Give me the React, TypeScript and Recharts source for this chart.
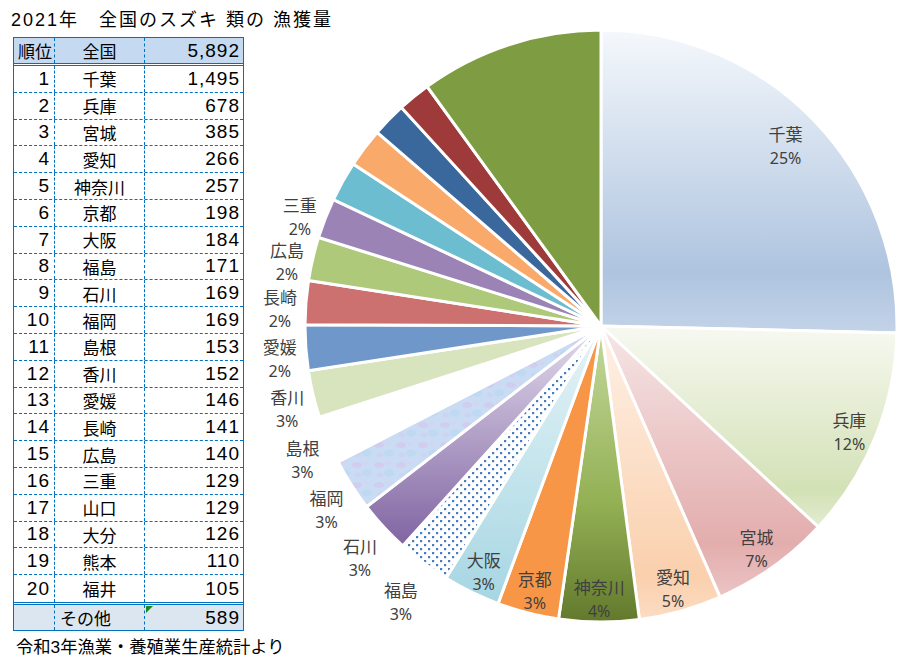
import React from 'react';
import { PieChart, Pie, Cell } from 'recharts';

// 2021年 スズキ類の漁獲量 (トン) 上位20都道府県
const prefectures = [
  '千葉', '兵庫', '宮城', '愛知', '神奈川', '京都', '大阪', '福島', '石川', '福岡',
  '島根', '香川', '愛媛', '長崎', '広島', '三重', '山口', '大分', '熊本', '福井',
];
const catches = [
  1495, 678, 385, 266, 257, 198, 184, 171, 169, 169,
  153, 152, 146, 141, 140, 129, 129, 126, 110, 105,
];
const otherName = 'その他';
const otherCatch = 589;
const nationalName = '全国';
const nationalTotal = 5892;

const titleText = '2021年　全国のスズキ 類の 漁獲量';
const sourceText = '令和3年漁業・養殖業生産統計より';

// only the first 16 slices carry a label
const LABELLED = 16;

const pieData = [
  ...prefectures.map((name, i) => ({ name, value: catches[i] })),
  { name: otherName, value: otherCatch },
];

const sliceFills = [
  'url(#gChiba)', 'url(#gHyogo)', 'url(#gMiyagi)', 'url(#gAichi)', 'url(#gKanagawa)',
  '#f79646', 'url(#gOsaka)', 'url(#pDots)', 'url(#gIshikawa)', 'url(#pMarble)',
  '#ffffff', '#d7e4bd', '#6f97ca', '#cd7170', '#aec97a',
  '#9b83b5', '#6dbdd1', '#f9aa6b', '#3a689c', '#9e3a39',
  '#7e9c41',
];

const RAD = Math.PI / 180;
const jpFont = "'Liberation Sans', 'Noto Sans CJK JP', sans-serif";

const renderLabel = (props: any) => {
  const { cx, cy, midAngle, outerRadius, percent, index, name } = props;
  if (index >= LABELLED) return null;
  const c = Math.cos(-midAngle * RAD);
  const s = Math.sin(-midAngle * RAD);
  let r: number;
  let dy: number;
  if (percent > 0.03) {
    r = index === 0 ? outerRadius - 38 : outerRadius - 28;
    dy = index === 0 ? 0 : 5;
  } else {
    const ext = Math.min(18 / Math.max(Math.abs(c), 0.01), 24 / Math.max(Math.abs(s), 0.01));
    r = outerRadius + 8 + ext;
    dy = 9;
  }
  const x = cx + r * c;
  const y = cy + r * s + dy;
  return (
    <text
      x={x}
      y={y}
      textAnchor="middle"
      fill="#404040"
      fontFamily="'Noto Sans', 'Noto Sans CJK JP', sans-serif"
    >
      <tspan x={x} y={y - 11.5} dominantBaseline="central" fontSize={17}>{name}</tspan>
      <tspan x={x} y={y + 12} dominantBaseline="central" fontSize={16}>{`${Math.round(percent * 100)}%`}</tspan>
    </text>
  );
};

const BLUE = '#0070c0';
const ROW_H = 26.8;

const cellBase: React.CSSProperties = {
  position: 'absolute',
  top: 0,
  height: '100%',
  display: 'flex',
  alignItems: 'center',
  boxSizing: 'border-box',
  whiteSpace: 'nowrap',
};

const numStyle: React.CSSProperties = { fontSize: 19, letterSpacing: 1 };

const TableRow = ({ top, height, rank, name, value, bg, dashedBottom, nameAlign, marker, rankSmall }: any) => (
  <div
    style={{
      position: 'absolute',
      left: 0,
      top,
      width: 229,
      height,
      background: bg,
      borderBottom: dashedBottom ? `1px dashed ${BLUE}` : 'none',
      boxSizing: 'border-box',
      fontSize: 17,
      color: '#000',
    }}
  >
    <div
      style={{
        ...cellBase,
        ...(rankSmall ? {} : numStyle),
        left: 0,
        width: 41,
        justifyContent: 'flex-end',
        paddingRight: rankSmall ? 2 : 4,
        borderRight: `1px dashed ${BLUE}`,
      }}
    >
      {rank}
    </div>
    <div
      style={{
        ...cellBase,
        left: 41,
        width: 90,
        justifyContent: nameAlign === 'left' ? 'flex-start' : 'center',
        paddingLeft: nameAlign === 'left' ? 5 : 0,
        borderRight: `1px dashed ${BLUE}`,
      }}
    >
      {name}
    </div>
    <div style={{ ...cellBase, ...numStyle, left: 131, width: 98, justifyContent: 'flex-end', paddingRight: 3 }}>
      {marker && (
        <div
          style={{
            position: 'absolute',
            left: 1,
            top: 1,
            width: 0,
            height: 0,
            borderTop: '7px solid #1e8a1e',
            borderRight: '7px solid transparent',
          }}
        />
      )}
      {value}
    </div>
  </div>
);

const RankTable = () => (
  <div
    style={{
      position: 'absolute',
      left: 13,
      top: 37,
      width: 231,
      height: 594,
      border: `1px solid ${BLUE}`,
      boxSizing: 'border-box',
      fontFamily: jpFont,
    }}
  >
    <TableRow top={0} height={25} rank="順位" rankSmall name={nationalName} value={nationalTotal.toLocaleString('en-US')} bg="#c5d9f1" />
    <div style={{ position: 'absolute', left: 0, top: 25, width: 229, height: 3, borderTop: `1px solid ${BLUE}`, borderBottom: `1px solid ${BLUE}`, boxSizing: 'border-box' }} />
    {prefectures.map((name, i) => (
      <TableRow
        key={name}
        top={28 + i * ROW_H}
        height={ROW_H}
        rank={i + 1}
        name={name}
        value={catches[i].toLocaleString('en-US')}
        bg="#ffffff"
        dashedBottom={i < prefectures.length - 1}
      />
    ))}
    <div style={{ position: 'absolute', left: 0, top: 28 + 20 * ROW_H, width: 229, height: 3, borderTop: `1px solid ${BLUE}`, borderBottom: `1px solid ${BLUE}`, boxSizing: 'border-box' }} />
    <TableRow
      top={31 + 20 * ROW_H}
      height={592 - (31 + 20 * ROW_H)}
      rank=""
      name={otherName}
      value={otherCatch.toLocaleString('en-US')}
      bg="#dce6f1"
      nameAlign="left"
      marker
    />
  </div>
);

const App = () => {
  return (
    <div style={{ position: 'absolute', left: 0, top: 0, width: 913, height: 663, background: '#fff', overflow: 'hidden' }}>
      <div style={{ position: 'absolute', left: 11, top: 5, fontSize: 18, letterSpacing: 2, fontFamily: jpFont, color: '#000', whiteSpace: 'pre' }}>
        {titleText}
      </div>
      <div style={{ position: 'absolute', left: 16, top: 633, fontSize: 17.3, fontFamily: jpFont, color: '#000', whiteSpace: 'pre' }}>
        {sourceText}
      </div>
      <div style={{ position: 'absolute', left: 0, top: 0 }}>
        <PieChart width={913} height={663} margin={{ top: 0, right: 0, bottom: 0, left: 0 }}>
          <defs>
            <linearGradient id="gChiba" x1="0" y1="0" x2="0" y2="1">
              <stop offset="0" stopColor="#f5f8fc" />
              <stop offset="0.8" stopColor="#aec4df" />
              <stop offset="1" stopColor="#c3d3e8" />
            </linearGradient>
            <linearGradient id="gHyogo" x1="0" y1="0" x2="0" y2="1">
              <stop offset="0" stopColor="#f7f9f1" />
              <stop offset="0.82" stopColor="#d3e1b6" />
              <stop offset="1" stopColor="#e3ecd2" />
            </linearGradient>
            <linearGradient id="gMiyagi" x1="0" y1="0" x2="0" y2="1">
              <stop offset="0" stopColor="#f6e6e6" />
              <stop offset="0.8" stopColor="#e3adad" />
              <stop offset="1" stopColor="#ecc4c4" />
            </linearGradient>
            <linearGradient id="gAichi" x1="0" y1="0" x2="0" y2="1">
              <stop offset="0" stopColor="#fef1e7" />
              <stop offset="0.85" stopColor="#fad0ad" />
              <stop offset="1" stopColor="#fcdcc3" />
            </linearGradient>
            <linearGradient id="gKanagawa" x1="0" y1="0" x2="0" y2="1">
              <stop offset="0" stopColor="#c5d99d" />
              <stop offset="0.6" stopColor="#93b054" />
              <stop offset="1" stopColor="#62792c" />
            </linearGradient>
            <linearGradient id="gOsaka" x1="0" y1="0" x2="0" y2="1">
              <stop offset="0" stopColor="#e6f4f7" />
              <stop offset="1" stopColor="#a6d6e3" />
            </linearGradient>
            <linearGradient id="gIshikawa" x1="0" y1="0" x2="0" y2="1">
              <stop offset="0" stopColor="#e3dcec" />
              <stop offset="1" stopColor="#8064a2" />
            </linearGradient>
            <pattern id="pDots" width="8" height="8" patternUnits="userSpaceOnUse">
              <rect width="8" height="8" fill="#ffffff" />
              <rect x="0" y="0" width="2.2" height="2.2" fill="#4a7ebb" />
              <rect x="4" y="4" width="2.2" height="2.2" fill="#4a7ebb" />
            </pattern>
            <pattern id="pMarble" width="22" height="20" patternUnits="userSpaceOnUse">
              <rect width="22" height="20" fill="#c9dcf3" />
              <ellipse cx="5" cy="5" rx="5" ry="3" fill="#d2cdef" />
              <ellipse cx="15" cy="13" rx="5" ry="3.5" fill="#bfd9f2" />
              <ellipse cx="14" cy="3" rx="2.5" ry="1.8" fill="#d8d2f0" />
              <ellipse cx="6" cy="15" rx="3" ry="2.2" fill="#cdd3f1" />
            </pattern>
          </defs>
          <Pie
            data={pieData}
            dataKey="value"
            nameKey="name"
            cx={601}
            cy={326}
            outerRadius={296}
            startAngle={90}
            endAngle={-270}
            stroke="#ffffff"
            strokeWidth={3}
            label={renderLabel}
            labelLine={false}
            isAnimationActive={false}
          >
            {pieData.map((d, i) => (
              <Cell key={d.name} fill={sliceFills[i]} />
            ))}
          </Pie>
        </PieChart>
      </div>
      <RankTable />
    </div>
  );
};

export default App;
